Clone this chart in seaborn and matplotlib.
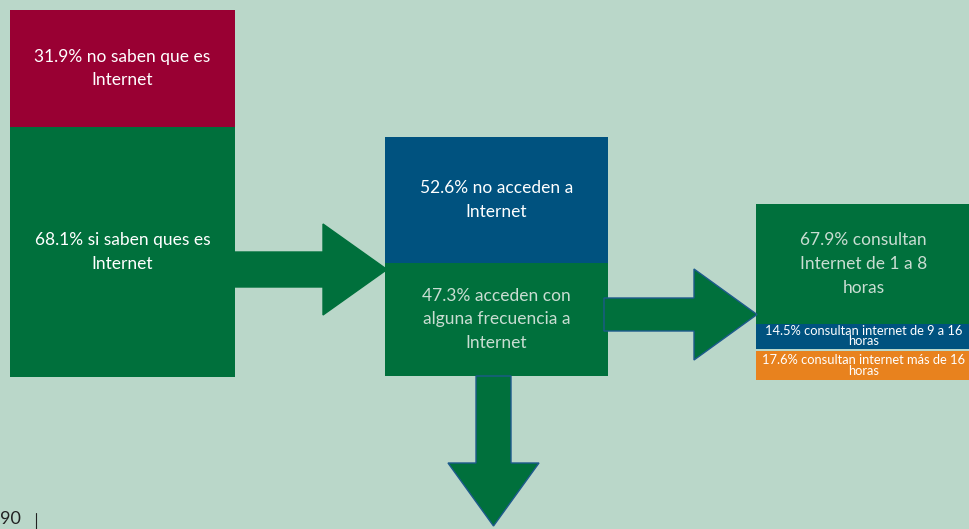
import matplotlib
matplotlib.use("Agg")
import matplotlib.pyplot as plt
from matplotlib.patches import Polygon
import seaborn as sns

# Shares of each group (percent)
saben_labels = ["31.9% no saben que es\nInternet", "68.1% si saben ques es\nInternet"]
saben_values = [31.9, 68.1]

acceso_labels = ["52.6% no acceden a\nInternet", "47.3% acceden con\nalguna frecuencia a\nInternet"]
acceso_values = [52.6, 47.3]

horas_labels = ["67.9% consultan\nInternet de 1 a 8\nhoras",
                "14.5% consultan internet de 9 a 16\nhoras",
                "17.6% consultan internet más de 16\nhoras"]
horas_values = [67.9, 14.5, 17.6]

BG = "#bad7c9"
RED = "#990033"
GREEN = "#00703c"
BLUE = "#00527f"
ORANGE = "#e8821e"
LIGHT = "#c9ddd2"
EDGE = "#1d5a8c"

sns.set_theme(style="white", rc={"axes.facecolor": BG, "figure.facecolor": BG})
plt.rcParams["font.family"] = ["Lato", "DejaVu Sans"]

fig = plt.figure(figsize=(9.69, 5.29), dpi=100)
ax = fig.add_axes([0, 0, 1, 1])
ax.set_xlim(0, 969)
ax.set_ylim(529, 0)
ax.axis("off")


def stack(left, width, top, bottom, values, colors, labels, txtcolors, sizes, spacing, gaps):
    total = sum(values)
    span = bottom - top
    y = top
    for v, c, lab, tc, fs, ls, g in zip(values, colors, labels, txtcolors, sizes, spacing, gaps):
        h = v / total * span
        ax.bar(left, h - g, bottom=y + g, width=width, align="edge", color=c, linewidth=0, zorder=2)
        ax.text(left + width / 2, y + g + (h - g) / 2, lab, ha="center", va="center",
                color=tc, fontsize=fs, linespacing=ls, zorder=4)
        y += h


def arrow(tail, shaft_end, tip, half_shaft, half_head, horizontal=True, edge=None):
    if horizontal:
        cx = tail[1]
        pts = [(tail[0], cx - half_shaft), (shaft_end, cx - half_shaft),
               (shaft_end, cx - half_head), (tip, cx), (shaft_end, cx + half_head),
               (shaft_end, cx + half_shaft), (tail[0], cx + half_shaft)]
    else:
        cx = tail[0]
        pts = [(cx - half_shaft, tail[1]), (cx - half_shaft, shaft_end),
               (cx - half_head, shaft_end), (cx, tip), (cx + half_head, shaft_end),
               (cx + half_shaft, shaft_end), (cx + half_shaft, tail[1])]
    ax.add_patch(Polygon(pts, closed=True, facecolor=GREEN,
                         edgecolor=edge if edge else GREEN, linewidth=1.0, zorder=3))


stack(10, 225, 10, 377, saben_values, [RED, GREEN], saben_labels,
      ["white", "white"], [12.5, 12.5], [1.6, 1.6], [0, 0])
stack(385, 223, 137, 376, acceso_values, [BLUE, GREEN], acceso_labels,
      ["white", LIGHT], [12.5, 12.5], [1.6, 1.6], [0, 0])
stack(756, 215, 204, 380, horas_values, [GREEN, BLUE, ORANGE], horas_labels,
      [LIGHT, "white", "white"], [12.5, 9.3, 9.3], [1.6, 0.82, 0.82], [0, 0, 2])

arrow((234, 269.5), 323, 387, 17.5, 45.5)
arrow((604, 314.5), 694, 757, 16.5, 45.5, edge=EDGE)
arrow((493.5, 376), 463, 526, 17.5, 45.5, horizontal=False, edge=EDGE)

# page footer
ax.text(0, 519, "90", ha="left", va="center", fontsize=13, color="#222222")
ax.plot([36, 36], [513, 529], color="#222222", linewidth=0.8)

fig.savefig("out.png", dpi=100, facecolor=BG)
